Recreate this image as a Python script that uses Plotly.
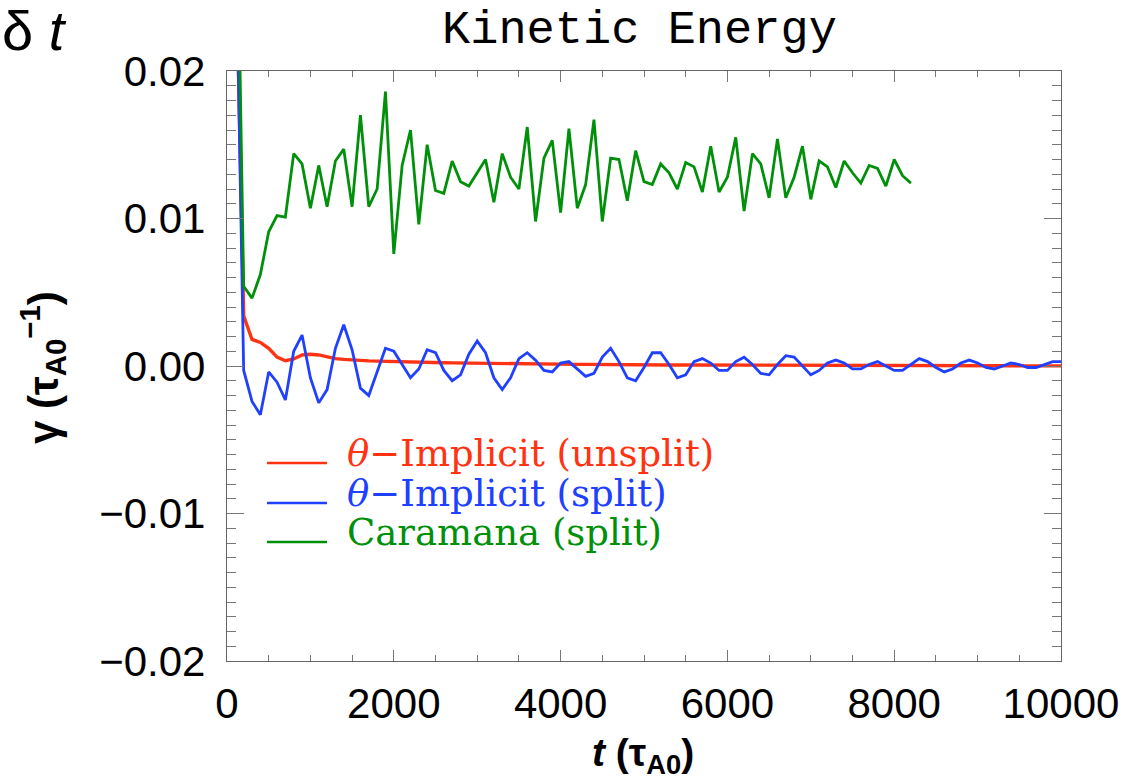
import plotly.graph_objects as go

# Sampling times (tau_A0) of the diagnostics
t_theta = list(range(100, 10001, 100))
t_caramana = list(range(100, 8201, 100))

# Growth rate of kinetic energy, theta-implicit scheme (unsplit)
gamma_unsplit = [
    0.030, 0.0034, 0.0018, 0.0016, 0.0012, 0.0006, 0.00036, 0.00048, 0.00075, 0.00080,
    0.00075, 0.00062, 0.00050, 0.00045, 0.00040, 0.00037, 0.00035, 0.00033, 0.00031, 0.00030,
    0.00028, 0.00026, 0.00025, 0.00024, 0.00023, 0.00022, 0.00021, 0.00020, 0.00020, 0.00019,
    0.00018, 0.00017, 0.00017, 0.00016, 0.00015, 0.00015, 0.00014, 0.00013, 0.00013, 0.00012,
    0.00012, 0.00011, 0.00011, 0.00010, 0.00010, 0.00010, 0.00009, 0.00009, 0.00009, 0.00008,
    0.00008, 0.00008, 0.00007, 0.00007, 0.00007, 0.00007, 0.00006, 0.00006, 0.00006, 0.00006,
    0.00005, 0.00005, 0.00005, 0.00005, 0.00005, 0.00005, 0.00004, 0.00004, 0.00004, 0.00004,
    0.00004, 0.00004, 0.00004, 0.00004, 0.00003, 0.00003, 0.00003, 0.00003, 0.00003, 0.00003,
    0.00003, 0.00003, 0.00003, 0.00002, 0.00002, 0.00002, 0.00002, 0.00002, 0.00002, 0.00002,
    0.00002, 0.00002, 0.00002, 0.00001, 0.00001, 0.00001, 0.00001, 0.00001, 0.00001, 0.00001,
]

# Growth rate, theta-implicit scheme (split)
gamma_split = [
    0.031, -0.0003, -0.0024, -0.0033, -0.0004, -0.0011, -0.0023, 0.0010, 0.0021, -0.0008,
    -0.0025, -0.0016, 0.0012, 0.0028, 0.0011, -0.0015, -0.0020, -0.0004, 0.0012, 0.0010,
    0.0001, -0.0008, -0.0002, 0.0011, 0.0009, -0.0003, -0.0010, -0.0006, 0.0008, 0.0017,
    0.0009, -0.0008, -0.0016, -0.0008, 0.0005, 0.0009, 0.0004, -0.0003, -0.0004, 0.0002,
    0.0003, -0.0002, -0.0007, -0.0005, 0.0006, 0.0012, 0.0003, -0.0008, -0.0010, -0.0001,
    0.0009, 0.0009, 0.0001, -0.0008, -0.0006, 0.0003, 0.0005, 0.0002, -0.0003, -0.0003,
    0.0003, 0.0006, 0.0001, -0.0005, -0.0006, 0.0001, 0.0007, 0.0006, 0.0000, -0.0006,
    -0.0003, 0.0002, 0.0004, 0.0002, -0.0002, -0.0002, 0.0001, 0.0003, 0.0000, -0.0003,
    -0.0003, 0.0001, 0.0005, 0.0003, -0.0001, -0.0004, -0.0002, 0.0002, 0.0004, 0.0002,
    -0.0001, -0.0002, 0.0000, 0.0002, 0.0001, -0.0001, -0.0001, 0.0001, 0.0003, 0.0003,
]

# Growth rate, Caramana scheme (split)
gamma_caramana = [
    0.039, 0.0054, 0.0046, 0.0062, 0.0091, 0.0102, 0.0101, 0.0144, 0.0137, 0.0107,
    0.0136, 0.0108, 0.0139, 0.0147, 0.0108, 0.0170, 0.0108, 0.0120, 0.0186, 0.0076,
    0.0136, 0.0160, 0.0096, 0.0150, 0.0119, 0.0117, 0.0139, 0.0125, 0.0122, 0.0131,
    0.0140, 0.0111, 0.0144, 0.0128, 0.0120, 0.0162, 0.0098, 0.0141, 0.0153, 0.0104,
    0.0161, 0.0107, 0.0123, 0.0167, 0.0098, 0.0141, 0.0140, 0.0112, 0.0146, 0.0125,
    0.0123, 0.0137, 0.0131, 0.0120, 0.0138, 0.0135, 0.0118, 0.0149, 0.0118, 0.0128,
    0.0155, 0.0105, 0.0144, 0.0137, 0.0114, 0.0154, 0.0114, 0.0128, 0.0149, 0.0113,
    0.0139, 0.0135, 0.0121, 0.0139, 0.0131, 0.0124, 0.0136, 0.0134, 0.0122, 0.0140,
    0.0129, 0.0124,
]

series_names = ["<i>θ</i>−Implicit (unsplit)", "<i>θ</i>−Implicit (split)", "Caramana (split)"]
series_colors = ["#FF3311", "#2040FF", "#00900A"]
series_widths = [3.4, 2.8, 2.8]

x_ticks = [0, 2000, 4000, 6000, 8000, 10000]
y_ticks = [-0.02, -0.01, 0.0, 0.01, 0.02]

W, H = 1139, 780
ML, MR, MT, MB = 227, 78, 71, 119
PW, PH = W - ML - MR, H - MT - MB


def px(xp):
    return (xp - ML) / PW


def py(yp):
    return (H - MB - yp) / PH


fig = go.Figure()
for t, g, name, col, w in zip(
    [t_theta, t_theta, t_caramana],
    [gamma_unsplit, gamma_split, gamma_caramana],
    series_names, series_colors, series_widths,
):
    fig.add_trace(go.Scatter(x=t, y=g, mode="lines", name=name,
                             line=dict(color=col, width=w), showlegend=False))

axis_common = dict(
    showgrid=False, zeroline=False, showline=True, linecolor="#666666", linewidth=1.3,
    mirror="allticks", ticks="inside", tickcolor="#777777", tickwidth=1.2,
    tickfont=dict(family="Liberation Sans, Arial, sans-serif", size=42, color="black"),
)

fig.update_xaxes(
    range=[0, 10000], tickvals=x_ticks, ticktext=[str(v) for v in x_ticks],
    ticklen=11, ticklabelstandoff=5,
    minor=dict(dtick=500, ticks="inside", ticklen=6, tickcolor="#777777", tickwidth=1.2),
    **axis_common,
)
fig.update_yaxes(
    range=[-0.02, 0.02], tickvals=y_ticks,
    ticktext=["−0.02", "−0.01", "0.00", "0.01", "0.02"],
    ticklen=17, ticklabelstandoff=12,
    minor=dict(dtick=0.001, ticks="inside", ticklen=9, tickcolor="#777777", tickwidth=1.2),
    **axis_common,
)

annotations = [
    dict(text="Kinetic Energy", x=px(639), y=py(30), xref="paper", yref="paper",
         showarrow=False, xanchor="center", yanchor="middle",
         font=dict(family="Liberation Mono, Courier New, monospace", size=47, color="black")),
    dict(text="δ <i>t</i>", x=px(0), y=py(30), xref="paper", yref="paper",
         showarrow=False, xanchor="left", yanchor="middle",
         font=dict(family="Liberation Sans, Arial, sans-serif", size=56, color="black")),
    dict(text="<b>γ (τ<sub>A0</sub><sup>−1</sup>)</b>", x=px(43), y=py(368),
         xref="paper", yref="paper", showarrow=False, textangle=-90,
         xanchor="center", yanchor="middle",
         font=dict(family="Liberation Sans, Arial, sans-serif", size=42, color="black")),
    dict(text="<b><i>t</i> (τ<sub>A0</sub>)</b>", x=px(643), y=py(755),
         xref="paper", yref="paper", showarrow=False,
         xanchor="center", yanchor="middle",
         font=dict(family="Liberation Sans, Arial, sans-serif", size=39, color="black")),
]

shapes = []
legend_rows = [463, 503, 542]
for name, col, yrow in zip(series_names, series_colors, legend_rows):
    shapes.append(dict(type="line", xref="paper", yref="paper",
                       x0=px(267), x1=px(327), y0=py(yrow), y1=py(yrow),
                       line=dict(color=col, width=2.5)))
    annotations.append(dict(text=name, x=px(345), y=py(yrow - 10), xref="paper", yref="paper",
                            showarrow=False, xanchor="left", yanchor="middle",
                            font=dict(family="DejaVu Serif, serif", size=37, color=col)))

fig.update_layout(
    width=W, height=H, margin=dict(l=ML, r=MR, t=MT, b=MB, autoexpand=False),
    paper_bgcolor="white", plot_bgcolor="white",
    annotations=annotations, shapes=shapes, showlegend=False,
)

fig.write_html("out.html")
